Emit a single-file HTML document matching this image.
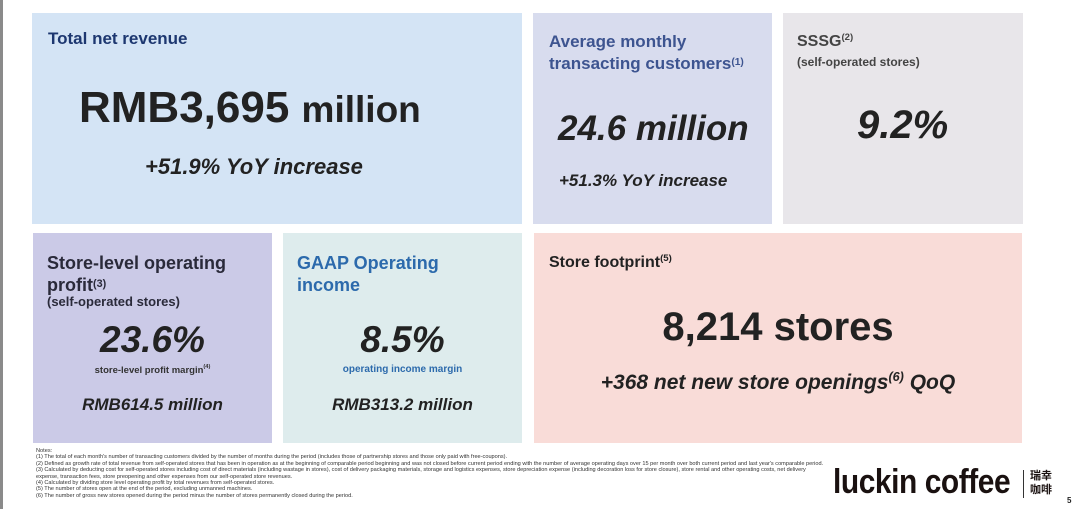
<!DOCTYPE html>
<html><head><style>
body{margin:0;width:1080px;height:509px;background:#fff;position:relative;overflow:hidden;font-family:"Liberation Sans",Arial,sans-serif}
.b{position:absolute}
.t{position:absolute;white-space:nowrap;font-weight:bold}
.c{text-align:center;left:0;right:0}
sup{font-size:60%;vertical-align:top;position:relative;top:-1px}
.i{font-style:italic}
</style></head><body>
<div class="b" style="left:0;top:0;width:3px;height:509px;background:#8a8a8a"></div>

<div class="b" style="left:32px;top:13px;width:490px;height:211px;background:#d4e4f5">
 <div class="t" style="left:16px;top:16px;font-size:17px;color:#1d3770">Total net revenue</div>
 <div class="t" style="left:47px;top:70px;font-size:44px;color:#222">RMB3,695 <span style="font-size:37px">million</span></div>
 <div class="t i" style="left:113px;top:141px;font-size:22px;color:#222">+51.9% YoY increase</div>
</div>

<div class="b" style="left:533px;top:13px;width:239px;height:211px;background:#d8dcee">
 <div class="t" style="left:16px;top:18px;font-size:17px;color:#3d5490;line-height:22px">Average monthly<br>transacting customers<sup>(1)</sup></div>
 <div class="t i" style="left:25px;top:96px;font-size:35px;color:#222">24.6 million</div>
 <div class="t i" style="left:26px;top:158px;font-size:17px;color:#222">+51.3% YoY increase</div>
</div>

<div class="b" style="left:783px;top:13px;width:240px;height:211px;background:#e8e6ea">
 <div class="t" style="left:14px;top:20px;font-size:16px;color:#444">SSSG<sup>(2)</sup></div>
 <div class="t" style="left:14px;top:42px;font-size:12px;color:#444">(self-operated stores)</div>
 <div class="t i" style="left:74px;top:90px;font-size:40px;color:#222">9.2%</div>
</div>

<div class="b" style="left:33px;top:233px;width:239px;height:210px;background:#cbcae7">
 <div class="t" style="left:14px;top:19px;font-size:18px;color:#2a2a3a;line-height:22px">Store-level operating<br>profit<sup>(3)</sup></div>
 <div class="t" style="left:14px;top:61px;font-size:13px;color:#2a2a3a">(self-operated stores)</div>
 <div class="t i c" style="top:86px;font-size:37px;color:#222">23.6%</div>
 <div class="t c" style="top:132px;font-size:9.5px;color:#333">store-level profit margin<sup>(4)</sup></div>
 <div class="t i c" style="top:162px;font-size:17px;color:#222">RMB614.5 million</div>
</div>

<div class="b" style="left:283px;top:233px;width:239px;height:210px;background:#deeced">
 <div class="t" style="left:14px;top:19px;font-size:18px;color:#2c6aac;line-height:22px">GAAP Operating<br>income</div>
 <div class="t i c" style="top:86px;font-size:37px;color:#222">8.5%</div>
 <div class="t c" style="top:131px;font-size:10px;color:#2c6aac">operating income margin</div>
 <div class="t i c" style="top:162px;font-size:17px;color:#222">RMB313.2 million</div>
</div>

<div class="b" style="left:534px;top:233px;width:488px;height:210px;background:#f9dcd8">
 <div class="t" style="left:15px;top:21px;font-size:16px;color:#222">Store footprint<sup>(5)</sup></div>
 <div class="t c" style="top:72px;font-size:40px;color:#222">8,214 stores</div>
 <div class="t i c" style="top:138px;font-size:21px;color:#222">+368 net new store openings<sup>(6)</sup> QoQ</div>
</div>

<div class="b" style="left:36px;top:448px;font-size:5.6px;line-height:6.4px;color:#333;width:820px;white-space:nowrap">
Notes:<br>
(1) The total of each month's number of transacting customers divided by the number of months during the period (includes those of partnership stores and those only paid with free-coupons).<br>
(2) Defined as growth rate of total revenue from self-operated stores that has been in operation as at the beginning of comparable period beginning and was not closed before current period ending with the number of average operating days over 15 per month over both current period and last year's comparable period.<br>
(3) Calculated by deducting cost for self-operated stores including cost of direct materials (including wastage in stores), cost of delivery packaging materials, storage and logistics expenses, store depreciation expense (including decoration loss for store closure), store rental and other operating costs, net delivery<br>
expense, transaction fees, store preopening and other expenses from our self-operated store revenues.<br>
(4) Calculated by dividing store level operating profit by total revenues from self-operated stores.<br>
(5) The number of stores open at the end of the period, excluding unmanned machines.<br>
(6) The number of gross new stores opened during the period minus the number of stores permanently closed during the period.
</div>

<div class="t" style="left:833px;top:463px;font-size:34px;color:#1a1110;letter-spacing:-0.5px;transform:scaleX(0.88);transform-origin:left">luckin coffee</div>
<div class="b" style="left:1023px;top:470px;width:1px;height:28px;background:#333"></div>
<div class="t" style="left:1030px;top:468px;font-size:11px;line-height:14px;color:#1a1110;font-family:'Noto Sans CJK SC',sans-serif">瑞幸<br>咖啡</div>
<div class="t" style="left:1067px;top:496px;font-size:8px;color:#222">5</div>
</body></html>
